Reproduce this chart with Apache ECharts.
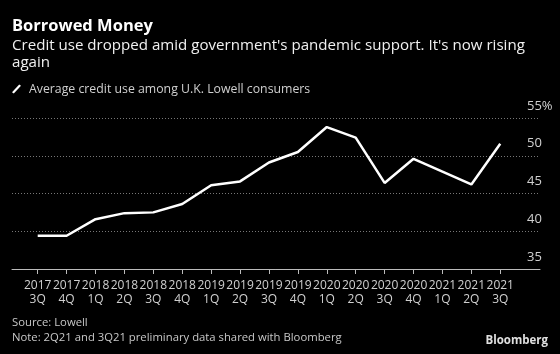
<!DOCTYPE html>
<html>
<head>
<meta charset="utf-8">
<script src="https://cdn.jsdelivr.net/npm/echarts@6/dist/echarts.min.js"></script>
<style>
html,body{margin:0;padding:0;background:#000;}
#c{width:560px;height:354px;}
</style>
</head>
<body>
<div id="c"></div>
<script>
var categories = ['2017\n3Q','2017\n4Q','2018\n1Q','2018\n2Q','2018\n3Q','2018\n4Q','2019\n1Q','2019\n2Q','2019\n3Q','2019\n4Q','2020\n1Q','2020\n2Q','2020\n3Q','2020\n4Q','2021\n1Q','2021\n2Q','2021\n3Q'];
var creditUse = [39.4, 39.4, 41.6, 42.4, 42.5, 43.6, 46.1, 46.6, 49.1, 50.5, 53.8, 52.4, 46.4, 49.6, 47.9, 46.2, 51.6];
var yTicks = [35, 40, 45, 50, 55];
var seriesName = 'Average credit use among U.K. Lowell consumers';

var FONT = '"Open Sans", "Liberation Sans", sans-serif';
var idx = categories.map(function(_, i){ return i; });
var chart = echarts.init(document.getElementById('c'), null, {renderer:'canvas'});
chart.setOption({
  backgroundColor: '#000',
  animation: false,
  title: [
    {text: 'Borrowed Money', left: 12, top: 17, padding: 0,
     textStyle: {color: '#fff', fontSize: 16.5, fontWeight: 'bold', fontFamily: FONT, lineHeight: 19}},
    {text: "Credit use dropped amid government's pandemic support. It's now rising\nagain", left: 12, top: 37, padding: 0,
     textStyle: {color: '#f0f0f0', fontSize: 15.1, fontWeight: 'normal', fontFamily: FONT, lineHeight: 17}},
    {text: 'Source: Lowell\nNote: 2Q21 and 3Q21 preliminary data shared with Bloomberg', left: 12, top: 315, padding: 0,
     textStyle: {color: '#c8c8c8', fontSize: 11.3, fontWeight: 'normal', fontFamily: FONT, lineHeight: 15}},
    {text: 'Bloomberg', right: 12, top: 334, padding: 0,
     textStyle: {color: '#e0e0e0', fontSize: 11.5, fontWeight: 'bold', fontFamily: FONT, lineHeight: 14}}
  ],
  legend: {
    left: 12, top: 83, padding: 0, itemGap: 0,
    itemWidth: 9, itemHeight: 10,
    icon: 'path://M8,0 L10,1.5 L2,10 L0,8.5 Z',
    textStyle: {color: '#d0d0d0', fontSize: 12.3, fontFamily: FONT, padding: [0,0,0,3]},
    data: [{name: seriesName, itemStyle: {color: '#fff'}}]
  },
  grid: {left: 12, right: 20, top: 118, bottom: 85, containLabel: false},
  xAxis: {
    type: 'value', min: -0.889, max: 17.375,
    splitLine: {show: false},
    axisLine: {show: true, lineStyle: {color: '#bbb', width: 1}},
    axisTick: {show: true, customValues: idx, length: 5, lineStyle: {color: '#bbb'}},
    axisLabel: {show: true, customValues: idx, color: '#d0d0d0', fontSize: 12, fontFamily: FONT,
      lineHeight: 14, margin: 10,
      formatter: function(v){ return categories[Math.round(v)]; }}
  },
  yAxis: {
    type: 'value', position: 'right', min: 35, max: 55, interval: 5,
    axisLine: {show: false}, axisTick: {show: false},
    splitLine: {show: true, lineStyle: {color: '#777', type: [1, 2], width: 1}},
    axisLabel: {inside: true, margin: 13, align: 'left', verticalAlign: 'bottom',
      color: '#d0d0d0', fontSize: 13, fontFamily: FONT, lineHeight: 14, padding: [0,0,5,0],
      formatter: function(v){ return v === 55 ? v + '%' : String(v); }}
  },
  series: [{
    name: seriesName, type: 'line', symbol: 'none',
    lineStyle: {color: '#fff', width: 2.5},
    itemStyle: {color: '#fff'},
    data: creditUse.map(function(v, i){ return [i, v]; })
  }]
});
</script>
</body>
</html>
